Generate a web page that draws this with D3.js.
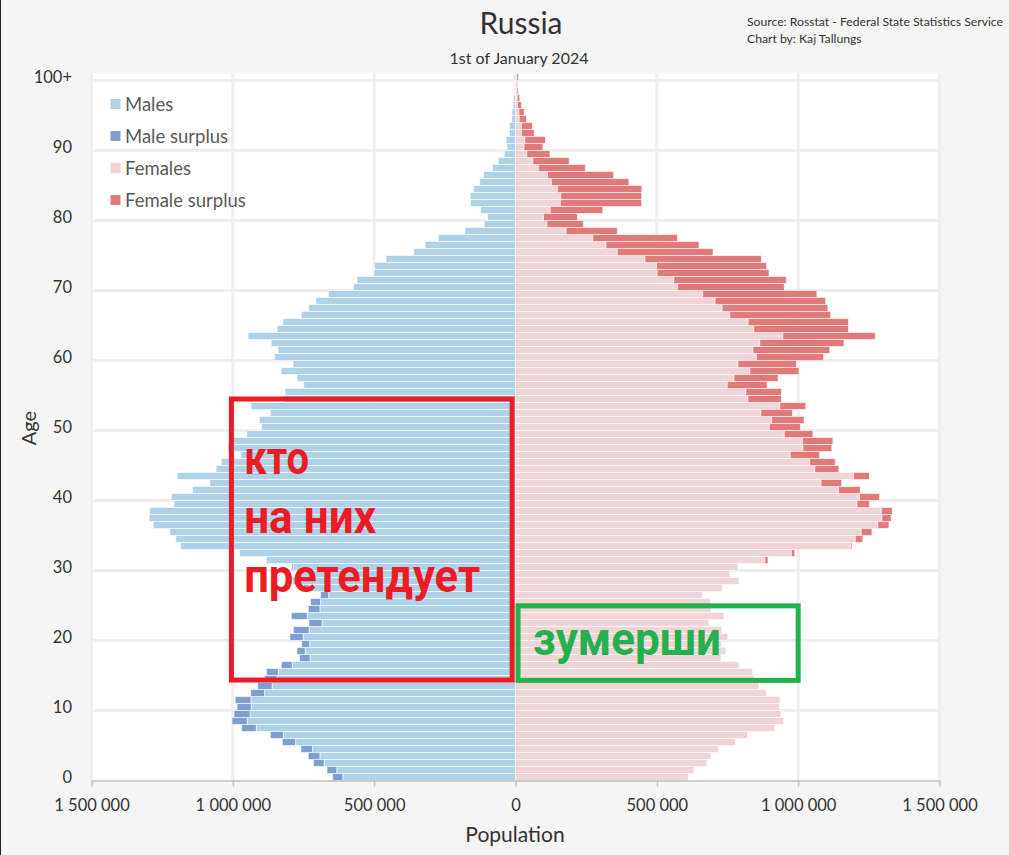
<!DOCTYPE html>
<html><head><meta charset="utf-8">
<script src="https://cdn.jsdelivr.net/npm/d3@7"></script>
<style>html,body{margin:0;padding:0;background:#f5f5f5;} svg{display:block;}</style>
</head><body><svg id="c" width="1009" height="855"></svg>
<script>
// ---------- DATA ----------
const ages = [0,1,2,3,4,5,6,7,8,9,10,11,12,13,14,15,16,17,18,19,20,21,22,23,24,25,26,27,28,29,30,31,32,33,34,35,36,37,38,39,40,41,42,43,44,45,46,47,48,49,50,51,52,53,54,55,56,57,58,59,60,61,62,63,64,65,66,67,68,69,70,71,72,73,74,75,76,77,78,79,80,81,82,83,84,85,86,87,88,89,90,91,92,93,94,95,96,97,98,99,100];
// population in thousands
const males = [647,667,715,733,759,825,867,969,1003,996,
  985,992,937,912,888,881,828,764,773,757,
  798,786,731,793,733,725,690,750,800,765,
  792,882,976,1185,1202,1223,1282,1296,1294,1208,
  1217,1143,1081,1196,1059,1041,972,1017,1015,951,
  898,906,868,935,822,815,749,773,829,787,
  852,840,864,946,843,823,758,731,706,662,
  573,560,501,499,458,360,320,273,179,111,
  99,123,159,160,148,127,113,81,61,40,
  30,33,21,21,13,12,7,6,4,3,
  4];
const females = [611,632,677,692,718,778,821,917,949,939,
  935,936,888,861,843,839,790,727,744,728,
  751,730,684,737,692,690,661,731,791,758,
  787,893,988,1190,1229,1261,1321,1329,1333,1252,
  1288,1220,1154,1252,1144,1131,1076,1119,1123,1052,
  1008,1021,980,1027,941,941,890,929,1003,994,
  1090,1112,1162,1273,1178,1178,1115,1105,1097,1066,
  951,958,897,888,870,699,649,573,360,240,
  219,309,446,446,447,401,347,247,190,122,
  97,106,66,60,39,31,21,15,9,7,
  10];
const xTickValues = [-1500000,-1000000,-500000,0,500000,1000000,1500000];
const xTickLabels = ["1 500 000","1 000 000","500 000","0","500 000","1 000 000","1 500 000"];
const yTickAges = [0,10,20,30,40,50,60,70,80,90,100];
const yTickLabels = ["0","10","20","30","40","50","60","70","80","90","100+"];
const legendLabels = ["Males","Male surplus","Females","Female surplus"];
const redNoteLines = ["кто","на них","претендует"];
const greenNoteLines = ["зумерши"];

// ---------- LAYOUT ----------
const svg = d3.select("#c");
const plot = {left:91.5, right:939.5, top:73.5, bottom:780.5};
const col = {m:"#aed2ea", ms:"#7f9fd3", f:"#f0d4d6", fs:"#e27a79"};
const x = d3.scaleLinear().domain([-1500000,1500000]).range([plot.left, plot.right]);
const y = d3.scaleBand().domain(ages).range([plot.bottom, plot.top]).padding(0);
const yl = d3.scaleLinear().domain([-0.5,100.5]).range([plot.bottom, plot.top]); // continuous age
const bw = y.bandwidth();

svg.append("rect").attr("width",1009).attr("height",855).attr("fill","#f5f5f5");
svg.append("line").attr("x1",0.5).attr("x2",0.5).attr("y1",0).attr("y2",855).attr("stroke","#222").attr("stroke-width",1);
svg.append("rect").attr("x",plot.left).attr("y",plot.top)
  .attr("width",plot.right-plot.left).attr("height",plot.bottom-plot.top).attr("fill","#fff");

// gridlines
svg.append("g").selectAll("line").data(xTickValues).join("line")
  .attr("x1",d=>x(d)).attr("x2",d=>x(d)).attr("y1",plot.top).attr("y2",plot.bottom)
  .attr("stroke","#efefef").attr("stroke-width",3);
svg.append("g").selectAll("line").data(yTickAges.filter(a=>a>0)).join("line")
  .attr("x1",plot.left).attr("x2",plot.right)
  .attr("y1",a=>y(a)+bw).attr("y2",a=>y(a)+bw)
  .attr("stroke","#efefef").attr("stroke-width",3);

// bars
const rows = ages.map((a,i)=>({age:a, m:males[i]*1000, f:females[i]*1000}));
const g = svg.append("g").attr("stroke","rgba(255,255,255,0.6)").attr("stroke-width",1);
function bars(cls, fill, x0fn, x1fn, filt){
  g.selectAll("rect."+cls).data(rows.filter(filt)).join("rect").attr("class",cls)
    .attr("x",d=>Math.min(x(x0fn(d)),x(x1fn(d))))
    .attr("width",d=>Math.abs(x(x1fn(d))-x(x0fn(d))))
    .attr("y",d=>y(d.age)).attr("height",bw).attr("fill",fill);
}
bars("mb", col.m, d=>-Math.min(d.m,d.f), d=>0, d=>true);
bars("ms", col.ms, d=>-d.m, d=>-d.f, d=>d.m>d.f);
bars("fb", col.f, d=>0, d=>Math.min(d.m,d.f), d=>true);
bars("fs", col.fs, d=>d.m, d=>d.f, d=>d.f>d.m);

// x axis
const font = "Lato, 'Open Sans', sans-serif";
const xa = svg.append("g").attr("transform",`translate(0,${plot.bottom})`)
  .call(d3.axisBottom(x).tickValues(xTickValues).tickFormat((d,i)=>xTickLabels[i]).tickSize(6).tickPadding(13).tickSizeOuter(0));
xa.select(".domain").attr("stroke","#bfbfbf").attr("stroke-width",1.5);
xa.selectAll(".tick line").attr("stroke","#bfbfbf").attr("stroke-width",1.5);
xa.selectAll(".tick text").attr("font-family",font).attr("font-size",16.5).attr("fill","#333");

// y labels
svg.append("g").selectAll("text").data(yTickAges).join("text")
  .attr("x",72).attr("y",a=>y(a)+bw/2).attr("dy","0.36em").attr("text-anchor","end")
  .attr("font-family",font).attr("font-size",16.5).attr("fill","#333")
  .text((a,i)=>yTickLabels[i]);

// titles
svg.append("text").attr("x",521).attr("y",34).attr("text-anchor","middle").attr("font-family",font).attr("font-size",30).attr("fill","#333").text("Russia");
svg.append("text").attr("x",519).attr("y",64).attr("text-anchor","middle").attr("font-family",font).attr("font-size",16).attr("fill","#333").text("1st of January 2024");
svg.append("text").attr("x",747).attr("y",26).attr("font-family",font).attr("font-size",12.2).attr("fill","#333").text("Source: Rosstat - Federal State Statistics Service");
svg.append("text").attr("x",747).attr("y",43).attr("font-family",font).attr("font-size",12.2).attr("fill","#333").text("Chart by: Kaj Tallungs");
svg.append("text").attr("x",515).attr("y",842).attr("text-anchor","middle").attr("font-family",font).attr("font-size",21).attr("fill","#333").text("Population");
svg.append("text").attr("transform","translate(36,428) rotate(-90)").attr("text-anchor","middle").attr("font-family",font).attr("font-size",20).attr("fill","#333").text("Age");

// legend
const lg = svg.append("g").selectAll("g").data(legendLabels).join("g")
  .attr("transform",(d,i)=>`translate(110,${104+i*32})`);
lg.append("rect").attr("x",0.5).attr("y",-5).attr("width",10).attr("height",10)
  .attr("fill",(d,i)=>[col.m,col.ms,col.f,col.fs][i]);
lg.append("text").attr("x",15).attr("dy","0.36em").attr("font-family",font).attr("font-size",18.5).attr("fill","#5a5a5a").text(d=>d);

// annotations (in data coordinates)
const red="#ed1c24", green="#22b14c";
const noteFont = "Roboto, 'Liberation Sans', sans-serif";
svg.append("rect").attr("x",x(-1005000)).attr("y",yl(54)).attr("width",x(-12000)-x(-1005000)).attr("height",yl(13.85)-yl(54))
  .attr("fill","none").attr("stroke",red).attr("stroke-width",5);
svg.append("rect").attr("x",x(9000)).attr("y",yl(24.45)).attr("width",x(1000000)-x(9000)).attr("height",yl(13.8)-yl(24.45))
  .attr("fill","none").attr("stroke",green).attr("stroke-width",5);
const redLen=[65,132,236];
svg.append("g").selectAll("text").data(redNoteLines).join("text")
  .attr("x",x(-960000)).attr("y",(d,i)=>[473.5,533,591.5][i])
  .attr("font-family",noteFont).attr("font-weight","bold").attr("font-size",47).attr("fill",red)
  .attr("textLength",(d,i)=>redLen[i]).attr("lengthAdjust","spacingAndGlyphs").text(d=>d);
svg.append("text").attr("x",x(62000)).attr("y",655).attr("font-family",noteFont).attr("font-weight","bold")
  .attr("font-size",47).attr("fill",green).attr("textLength",188).attr("lengthAdjust","spacingAndGlyphs").text(greenNoteLines[0]);
</script></body></html>
